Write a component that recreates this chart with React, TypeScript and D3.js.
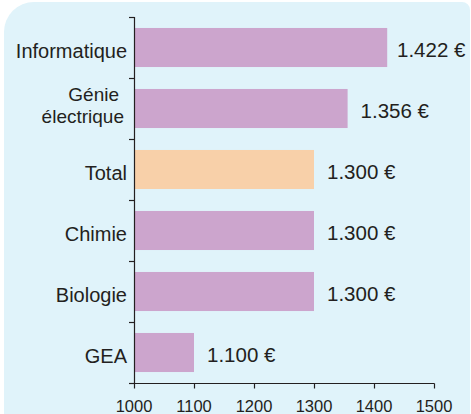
import React from "react";
import * as d3 from "d3";

const categories: string[][] = [
  ["Informatique"],
  ["Génie", "électrique"],
  ["Total"],
  ["Chimie"],
  ["Biologie"],
  ["GEA"],
];
const values: number[] = [1422, 1356, 1300, 1300, 1300, 1100];
const valueLabels: string[] = ["1.422 €", "1.356 €", "1.300 €", "1.300 €", "1.300 €", "1.100 €"];
const highlight: boolean[] = [false, false, true, false, false, false];
const xTicks: number[] = [1000, 1100, 1200, 1300, 1400, 1500];

const W = 471;
const H = 414;
const FONT = "'Liberation Sans', Arial, Helvetica, sans-serif";
const TEXT = "#231f20";

export default function App() {
  const x = d3.scaleLinear().domain([1000, 1500]).range([134, 434]);
  const y = d3
    .scaleBand<number>()
    .domain(d3.range(values.length))
    .range([17, 383])
    .paddingInner(0.36)
    .paddingOuter(0.18);
  const step = y.step();
  const boundaries = d3.range(values.length + 1).map((i) => 17 + i * step);

  const px0 = 4, py0 = 2, px1 = 470, py1 = 420;
  const rTL = 30, rTR = 8, rBL = 6;
  const panel = `M${px0},${py0 + rTL} A${rTL},${rTL} 0 0 1 ${px0 + rTL},${py0} L${px1 - rTR},${py0} A${rTR},${rTR} 0 0 1 ${px1},${py0 + rTR} L${px1},${py1} L${px0 + rBL},${py1} A${rBL},${rBL} 0 0 1 ${px0},${py1 - rBL} Z`;

  return (
    <svg
      width={W}
      height={H}
      style={{ position: "absolute", left: 0, top: 0, background: "#ffffff" }}
      fontFamily={FONT}
    >
      <path d={panel} fill="#e0f3fa" />
      {values.map((v, i) => (
        <rect
          key={"b" + i}
          x={x(1000)}
          y={y(i)!}
          width={x(v) - x(1000)}
          height={y.bandwidth()}
          fill={highlight[i] ? "#f8d0a9" : "#cca5cd"}
        />
      ))}
      {values.map((v, i) => {
        const cy = y(i)! + y.bandwidth() / 2;
        const tx = Math.min(x(v) + 13, 397);
        return (
          <text key={"v" + i} x={tx} y={cy + 9.5} fontSize={20.5} fill={TEXT}>
            {valueLabels[i]}
          </text>
        );
      })}
      {categories.map((lines, i) => {
        const cy = y(i)! + y.bandwidth() / 2;
        if (lines.length === 1) {
          return (
            <text key={"c" + i} x={127} y={cy + 10} fontSize={20} fill={TEXT} textAnchor="end">
              {lines[0]}
            </text>
          );
        }
        return (
          <g key={"c" + i}>
            <text x={119} y={cy - 7.5} fontSize={19} fill={TEXT} textAnchor="end">
              {lines[0]}
            </text>
            <text x={124} y={cy + 14} fontSize={19} fill={TEXT} textAnchor="end">
              {lines[1]}
            </text>
          </g>
        );
      })}
      <line x1={134.5} x2={134.5} y1={17} y2={383.5} stroke={TEXT} strokeWidth={1.2} />
      {boundaries.map((b, i) => (
        <line key={"yt" + i} x1={129} x2={134.5} y1={Math.round(b) + 0.5} y2={Math.round(b) + 0.5} stroke={TEXT} strokeWidth={1.2} />
      ))}
      <line x1={134} x2={434.5} y1={383.5} y2={383.5} stroke={TEXT} strokeWidth={1.2} />
      {xTicks.map((t) => (
        <g key={"xt" + t}>
          <line x1={Math.round(x(t)) + 0.5} x2={Math.round(x(t)) + 0.5} y1={383.5} y2={388.5} stroke={TEXT} strokeWidth={1.2} />
          <text x={x(t)} y={412} fontSize={16.5} fill={TEXT} textAnchor="middle">
            {t}
          </text>
        </g>
      ))}
    </svg>
  );
}
